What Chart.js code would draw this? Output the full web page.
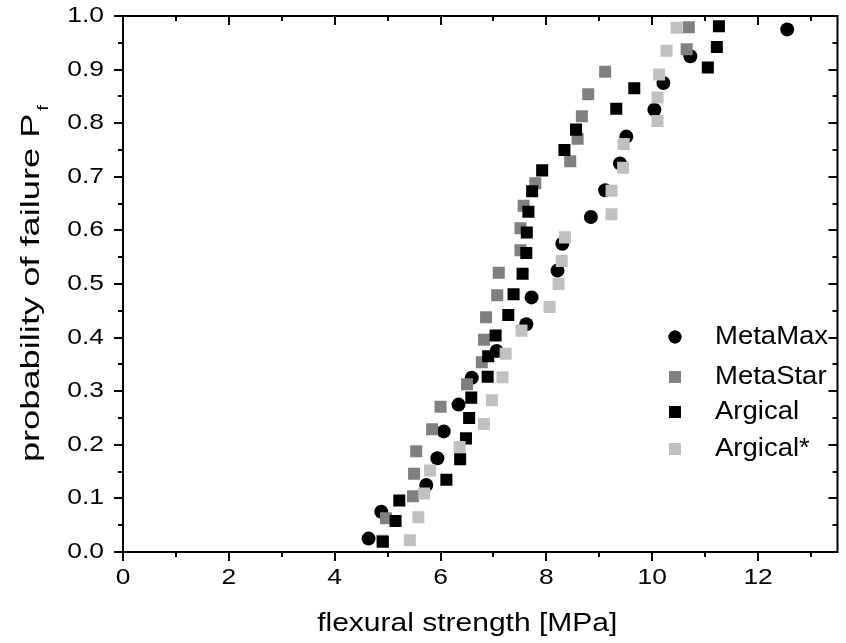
<!DOCTYPE html>
<html>
<head>
<meta charset="utf-8">
<script src="https://cdn.jsdelivr.net/npm/chart.js@4.4.0/dist/chart.umd.min.js"></script>
<style>
  html, body { margin: 0; padding: 0; background: #fff; }
</style>
</head>
<body>
<canvas id="chart" width="846" height="643"></canvas>
<script>
// flexural strength [MPa] / probability of failure
const metaMaxX = [4.64, 4.88, 5.73, 5.94, 6.06, 6.34, 6.59, 7.06, 7.62, 7.72, 8.21, 8.30, 8.84, 9.11, 9.39, 9.51, 10.04, 10.21, 10.72, 12.55];
const metaMaxP = [0.025, 0.075, 0.125, 0.175, 0.225, 0.275, 0.325, 0.375, 0.425, 0.475, 0.525, 0.575, 0.625, 0.675, 0.725, 0.775, 0.825, 0.875, 0.925, 0.975];

const metaStarX = [4.90, 4.97, 5.48, 5.50, 5.54, 5.84, 6.00, 6.50, 6.78, 6.82, 6.86, 7.07, 7.10, 7.51, 7.51, 7.57, 7.79, 8.45, 8.59, 8.67, 8.79, 9.11, 10.65, 10.69];
const metaStarP = [0.021, 0.063, 0.104, 0.146, 0.188, 0.229, 0.271, 0.313, 0.354, 0.396, 0.438, 0.479, 0.521, 0.563, 0.604, 0.646, 0.688, 0.729, 0.771, 0.813, 0.854, 0.896, 0.938, 0.979];

const argicalX = [4.91, 5.15, 5.22, 6.11, 6.37, 6.48, 6.54, 6.58, 6.89, 6.90, 7.04, 7.28, 7.38, 7.55, 7.62, 7.63, 7.66, 7.73, 7.92, 8.34, 8.56, 9.32, 9.66, 11.05, 11.22, 11.26];
const argicalP = [0.019, 0.058, 0.096, 0.135, 0.173, 0.212, 0.250, 0.288, 0.327, 0.365, 0.404, 0.442, 0.481, 0.519, 0.558, 0.596, 0.635, 0.673, 0.712, 0.750, 0.788, 0.827, 0.865, 0.904, 0.942, 0.981];

const argicalStarX = [5.42, 5.58, 5.69, 5.80, 6.36, 6.82, 6.97, 7.17, 7.23, 7.53, 8.06, 8.23, 8.29, 8.35, 9.23, 9.23, 9.45, 9.46, 10.10, 10.10, 10.13, 10.27, 10.46];
const argicalStarP = [0.022, 0.065, 0.109, 0.152, 0.196, 0.239, 0.283, 0.326, 0.370, 0.413, 0.457, 0.500, 0.543, 0.587, 0.630, 0.674, 0.717, 0.761, 0.804, 0.848, 0.891, 0.935, 0.978];

const seriesNames = ['MetaMax', 'MetaStar', 'Argical', 'Argical*'];

const xTicks = [0, 1, 2, 3, 4, 5, 6, 7, 8, 9, 10, 11, 12, 13];
const xTickLabels = ['0', '', '2', '', '4', '', '6', '', '8', '', '10', '', '12', ''];
const yTicks = [0, 0.05, 0.1, 0.15, 0.2, 0.25, 0.3, 0.35, 0.4, 0.45, 0.5, 0.55, 0.6, 0.65, 0.7, 0.75, 0.8, 0.85, 0.9, 0.95, 1.0];
const yTickLabels = ['0.0', '', '0.1', '', '0.2', '', '0.3', '', '0.4', '', '0.5', '', '0.6', '', '0.7', '', '0.8', '', '0.9', '', '1.0'];

const FONT = 'Arial, "Liberation Sans", sans-serif';

function pts(xs, ys) {
    return xs.map((x, i) => ({ x, y: ys[i] }));
}

// text slightly wider than plain Arial, like the exported original
function wideText(ctx, text, x, y, sx, align) {
    ctx.save();
    ctx.translate(x, y);
    ctx.scale(sx, 1);
    ctx.textAlign = align;
    ctx.fillText(text, 0, 0);
    ctx.restore();
}

// frame, ticks, labels and legend drawn from the chart's own scales
const originFrame = {
    id: 'originFrame',
    afterDatasetsDraw(chart) {
        const ctx = chart.ctx;
        const xs = chart.scales.x, ys = chart.scales.y;
        const { left, right, top, bottom } = chart.chartArea;
        ctx.save();
        ctx.strokeStyle = '#000';
        ctx.lineWidth = 2;
        ctx.strokeRect(left, top, right - left, bottom - top);

        ctx.beginPath();
        xTicks.forEach((v, i) => {
            const px = Math.round(xs.getPixelForValue(v));
            const len = xTickLabels[i] !== '' ? 9 : 5;
            ctx.moveTo(px, bottom); ctx.lineTo(px, bottom + len);
            ctx.moveTo(px, top); ctx.lineTo(px, top + len);
        });
        yTicks.forEach((v, i) => {
            const py = Math.round(ys.getPixelForValue(v));
            const len = yTickLabels[i] !== '' ? 9 : 5;
            ctx.moveTo(left, py); ctx.lineTo(left - len, py);
            ctx.moveTo(right, py); ctx.lineTo(right - len, py);
        });
        ctx.stroke();

        ctx.fillStyle = '#000';
        ctx.font = '22px ' + FONT;
        ctx.textBaseline = 'middle';
        xTicks.forEach((v, i) => {
            if (xTickLabels[i]) wideText(ctx, xTickLabels[i], xs.getPixelForValue(v), bottom + 26, 1.2, 'center');
        });
        yTicks.forEach((v, i) => {
            if (yTickLabels[i]) wideText(ctx, yTickLabels[i], left - 19, ys.getPixelForValue(v), 1.2, 'right');
        });

        // axis titles
        ctx.font = '25px ' + FONT;
        wideText(ctx, 'flexural strength [MPa]', (left + right) / 2 - 13, 624, 1.2, 'center');

        ctx.save();
        ctx.translate(32, 285);
        ctx.rotate(-Math.PI / 2);
        ctx.scale(1.45, 1);
        const main = 'probability of failure P';
        ctx.font = '25px ' + FONT;
        const w = ctx.measureText(main).width;
        ctx.font = '14px ' + FONT;
        const ws = ctx.measureText('f').width;
        const x0 = -(w + ws) / 2;
        ctx.font = '25px ' + FONT;
        ctx.textAlign = 'left';
        ctx.fillText(main, x0, 0);
        ctx.font = '14px ' + FONT;
        ctx.fillText('f', x0 + w + 2, 12);
        ctx.restore();

        // legend
        const legendY = [337, 377, 412, 449];
        ctx.font = '25px ' + FONT;
        chart.data.datasets.forEach((ds, i) => {
            Chart.helpers.drawPoint(ctx, {
                pointStyle: ds.pointStyle,
                radius: ds.pointStyle === 'circle' ? 6.5 : 8.5,
                borderWidth: 0
            }, 675, legendY[i]);
            ctx.fillStyle = ds.backgroundColor;
            ctx.fill();
            ctx.fillStyle = '#000';
            wideText(ctx, seriesNames[i], 715, legendY[i], 1.1, 'left');
        });
        ctx.restore();
    }
};

new Chart(document.getElementById('chart'), {
    type: 'scatter',
    data: {
        datasets: [
            { label: seriesNames[0], data: pts(metaMaxX, metaMaxP), pointStyle: 'circle', pointRadius: 7, backgroundColor: '#000000', borderWidth: 0, order: 4 },
            { label: seriesNames[1], data: pts(metaStarX, metaStarP), pointStyle: 'rect', pointRadius: 8.5, backgroundColor: '#808080', borderWidth: 0, order: 3 },
            { label: seriesNames[2], data: pts(argicalX, argicalP), pointStyle: 'rect', pointRadius: 8.5, backgroundColor: '#000000', borderWidth: 0, order: 2 },
            { label: seriesNames[3], data: pts(argicalStarX, argicalStarP), pointStyle: 'rect', pointRadius: 8.5, backgroundColor: '#c0c0c0', borderWidth: 0, order: 1 }
        ]
    },
    options: {
        responsive: false,
        animation: false,
        events: [],
        devicePixelRatio: 1,
        layout: { padding: { left: 123, top: 16, right: 2, bottom: 91 } },
        plugins: { legend: { display: false }, tooltip: { enabled: false } },
        scales: {
            x: { type: 'linear', min: 0, max: 13.5, display: false },
            y: { type: 'linear', min: 0, max: 1.0, display: false }
        }
    },
    plugins: [originFrame]
});
</script>
</body>
</html>
